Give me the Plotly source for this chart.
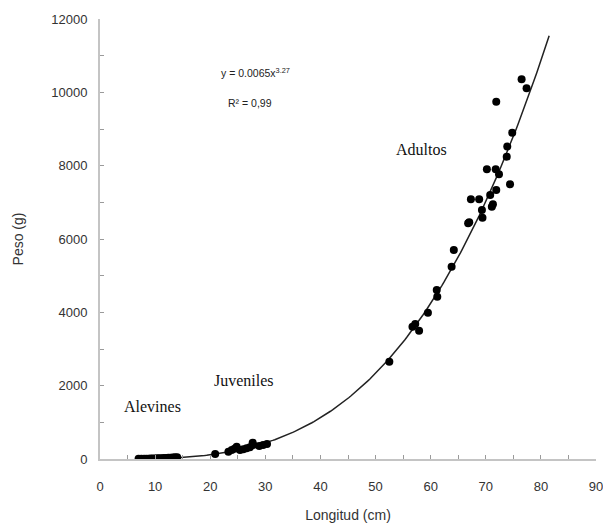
import numpy as np
import plotly.graph_objects as go

# Data
alevines_len = [7.0, 7.5, 8.0, 8.4, 8.8, 9.2, 9.6, 10.0, 10.4, 10.8, 11.2, 11.6, 12.0, 12.4, 12.8, 13.2, 13.6, 14.0]
alevines_wt = [5, 6, 8, 9, 10, 12, 14, 15, 18, 20, 22, 25, 28, 32, 35, 40, 45, 50]
juveniles_len = [20.9, 23.3, 23.9, 24.4, 24.8, 25.4, 26.0, 26.6, 27.2, 27.7, 27.8, 28.9, 29.6, 30.3]
juveniles_wt = [136, 200, 245, 280, 335, 245, 265, 290, 320, 445, 380, 355, 380, 410]
adultos_len = [52.5, 56.7, 57.2, 57.9, 59.5, 61.1, 61.2, 63.8, 64.2, 66.8, 67.0, 67.3, 68.8, 69.3, 69.4,
               70.2, 70.8, 71.1, 71.3, 71.8, 71.9, 71.9, 72.4, 73.8, 73.9, 74.4, 74.8, 76.5, 77.4]
adultos_wt = [2654, 3609, 3682, 3500, 3990, 4609, 4427, 5244, 5700, 6430, 6455, 7082, 7082, 6790, 6580,
              7900, 7200, 6880, 6950, 7900, 7336, 9745, 7764, 8245, 8520, 7491, 8900, 10355, 10110]

fit_a = 0.0065
fit_b = 3.27
fit_range = [7.0, 81.5]

x_ticks = [0, 10, 20, 30, 40, 50, 60, 70, 80, 90]
x_labels = ["0", "10", "20", "30", "40", "50", "60", "70", "80", "90"]
y_ticks = [0, 2000, 4000, 6000, 8000, 10000, 12000]
y_labels = ["0", "2000", "4000", "6000", "8000", "10000", "12000"]

all_len = alevines_len + juveniles_len + adultos_len
all_wt = alevines_wt + juveniles_wt + adultos_wt

xf = np.linspace(fit_range[0], fit_range[1], 200)
yf = fit_a * xf ** fit_b

fig = go.Figure()
fig.add_trace(go.Scatter(x=xf, y=yf, mode="lines",
                         line=dict(color="#222222", width=1.5), hoverinfo="skip"))
fig.add_trace(go.Scatter(x=all_len, y=all_wt, mode="markers",
                         marker=dict(color="black", size=8)))

serif = "Liberation Serif, Times New Roman, serif"
sans = "Liberation Sans, Arial, sans-serif"
fig.add_annotation(x=9.6, y=1440, text="Alevines", showarrow=False,
                   font=dict(family=serif, size=16, color="#111"))
fig.add_annotation(x=26.2, y=2130, text="Juveniles", showarrow=False,
                   font=dict(family=serif, size=16, color="#111"))
fig.add_annotation(x=58.3, y=8450, text="Adultos", showarrow=False,
                   font=dict(family=serif, size=16, color="#111"))
fig.add_annotation(x=28.3, y=10530, text="y = 0.0065x<sup>3.27</sup>", showarrow=False,
                   font=dict(family=sans, size=10.5, color="#222"))
fig.add_annotation(x=27.3, y=9710, text="R² = 0,99", showarrow=False,
                   font=dict(family=sans, size=10.5, color="#222"))

axis_common = dict(showgrid=False, zeroline=False, showline=True, linecolor="#c4c4c4", linewidth=2,
                   ticks="inside", ticklen=4, tickcolor="#9a9a9a", tickwidth=1, automargin=False,
                   tickfont=dict(family=sans, size=13, color="#333"))
fig.update_xaxes(range=[0, 90], tickvals=x_ticks, ticktext=x_labels, ticklabelstandoff=14,
                 minor=dict(dtick=5, ticks="inside", ticklen=4, tickcolor="#9a9a9a"),
                 title=dict(text="Longitud (cm)", font=dict(family=sans, size=14, color="#333"), standoff=18),
                 **axis_common)
fig.update_yaxes(range=[0, 12000], tickvals=y_ticks, ticktext=y_labels, ticklabelstandoff=8,
                 minor=dict(dtick=1000, ticks="inside", ticklen=4, tickcolor="#9a9a9a"),
                 title=dict(text="Peso (g)", font=dict(family=sans, size=14, color="#333"), standoff=24),
                 **axis_common)
# page body adds an 8px offset, so the figure is sized/positioned to compensate
fig.update_layout(width=603, height=519, showlegend=False,
                  margin=dict(l=92, r=15, t=11, b=68),
                  plot_bgcolor="white", paper_bgcolor="white")
fig.write_html("out.html")
